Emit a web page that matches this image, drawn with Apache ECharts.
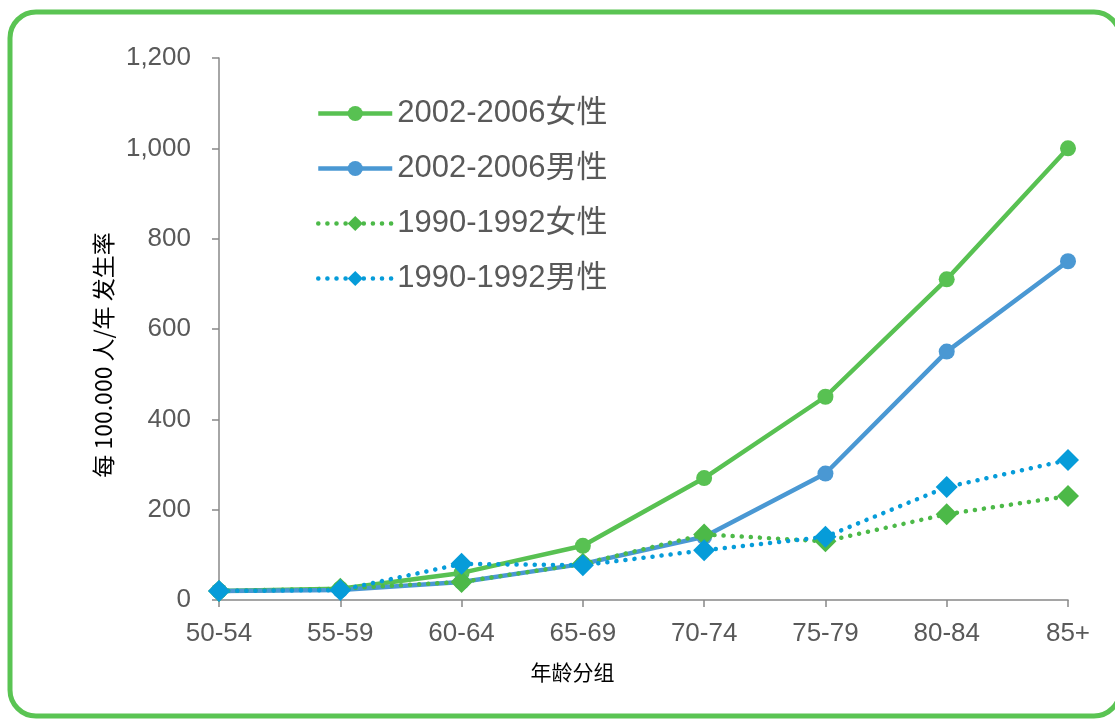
<!DOCTYPE html>
<html>
<head>
<meta charset="utf-8">
<style>
  html, body { margin: 0; padding: 0; background: #ffffff; }
  #chart { width: 1115px; height: 719px; }
</style>
<script src="https://cdn.jsdelivr.net/npm/echarts@6/dist/echarts.min.js"></script>
</head>
<body>
<div id="chart"></div>
<script>
// Age groups along the x axis
const ageGroups = ['50-54', '55-59', '60-64', '65-69', '70-74', '75-79', '80-84', '85+'];

// Incidence per 100,000 persons per year
const female2002 = [20, 25, 60, 120, 270, 450, 710, 1000];
const male2002   = [20, 22, 40, 80, 140, 280, 550, 750];
const female1990 = [20, 25, 40, 80, 145, 130, 190, 230];
const male1990   = [20, 22, 80, 77, 110, 140, 250, 310];

const seriesNames = ['2002-2006女性', '2002-2006男性', '1990-1992女性', '1990-1992男性'];

const GREEN = '#58c152';
const BLUE = '#4a98d3';
const GREEN_D = '#4cb948';
const BLUE_D = '#069cd9';
const FONT = '"Liberation Sans", Arial, "Noto Sans CJK SC", sans-serif';
const CJK_FONT = '"Noto Sans CJK SC", "Liberation Sans", sans-serif';
const DOTS = [0.1, 9];

const chart = echarts.init(document.getElementById('chart'), null, { renderer: 'canvas' });

function solidSeries(name, data, color) {
  return {
    name, type: 'line', data,
    symbol: 'circle', symbolSize: 16,
    itemStyle: { color },
    lineStyle: { color, width: 4.5 },
    z: 3
  };
}
function dottedSeries(name, data, color) {
  return {
    name, type: 'line', data,
    symbol: 'diamond', symbolSize: 22,
    itemStyle: { color },
    lineStyle: { color, width: 4.5, type: DOTS, cap: 'round' },
    z: 4
  };
}

chart.setOption({
  animation: false,
  backgroundColor: '#ffffff',
  textStyle: { fontFamily: FONT },
  graphic: [{
    type: 'rect',
    shape: { x: 10, y: 12, width: 1110, height: 704, r: 26 },
    style: { fill: 'none', stroke: '#5ac453', lineWidth: 5 },
    silent: true,
    z: -10
  }],
  grid: { left: 219, right: 47, top: 58, bottom: 119, containLabel: false },
  legend: {
    orient: 'vertical',
    left: 311, top: 93,
    itemWidth: 74, itemHeight: 19, itemGap: 24,
    textStyle: { fontSize: 31, color: '#595959', fontFamily: FONT },
    data: [
      { name: seriesNames[0], lineStyle: { width: 4.5, color: GREEN } },
      { name: seriesNames[1], lineStyle: { width: 4.5, color: BLUE } },
      { name: seriesNames[2], lineStyle: { width: 4.5, color: GREEN_D, type: DOTS, cap: 'round' } },
      { name: seriesNames[3], lineStyle: { width: 4.5, color: BLUE_D, type: DOTS, cap: 'round' } }
    ]
  },
  xAxis: {
    type: 'category',
    data: ageGroups,
    boundaryGap: false,
    name: '年龄分组',
    nameLocation: 'middle',
    nameGap: 62,
    nameTextStyle: { fontSize: 21, color: '#000000', fontFamily: CJK_FONT, padding: [0, 142, 0, 0] },
    axisLine: { lineStyle: { color: '#888888', width: 1.5 } },
    axisTick: { alignWithLabel: true, length: 7, lineStyle: { color: '#888888', width: 1.5 } },
    axisLabel: { fontSize: 26, color: '#595959', margin: 21, fontFamily: FONT },
    splitLine: { show: false }
  },
  yAxis: {
    type: 'value',
    min: 0, max: 1200, interval: 200,
    name: '每 100.000 人/年 发生率',
    nameLocation: 'middle',
    nameGap: 92,
    nameRotate: 90,
    nameTextStyle: { fontSize: 23, color: '#000000', fontFamily: CJK_FONT, padding: [0, 52, 0, 0] },
    axisLine: { show: true, lineStyle: { color: '#888888', width: 1.5 } },
    axisTick: { show: true, length: 7, lineStyle: { color: '#888888', width: 1.5 } },
    axisLabel: {
      fontSize: 26, color: '#595959', margin: 28, fontFamily: FONT,
      formatter: v => v.toLocaleString('en-US')
    },
    splitLine: { show: false }
  },
  series: [
    solidSeries(seriesNames[0], female2002, GREEN),
    solidSeries(seriesNames[1], male2002, BLUE),
    dottedSeries(seriesNames[2], female1990, GREEN_D),
    dottedSeries(seriesNames[3], male1990, BLUE_D)
  ]
});
</script>
</body>
</html>
